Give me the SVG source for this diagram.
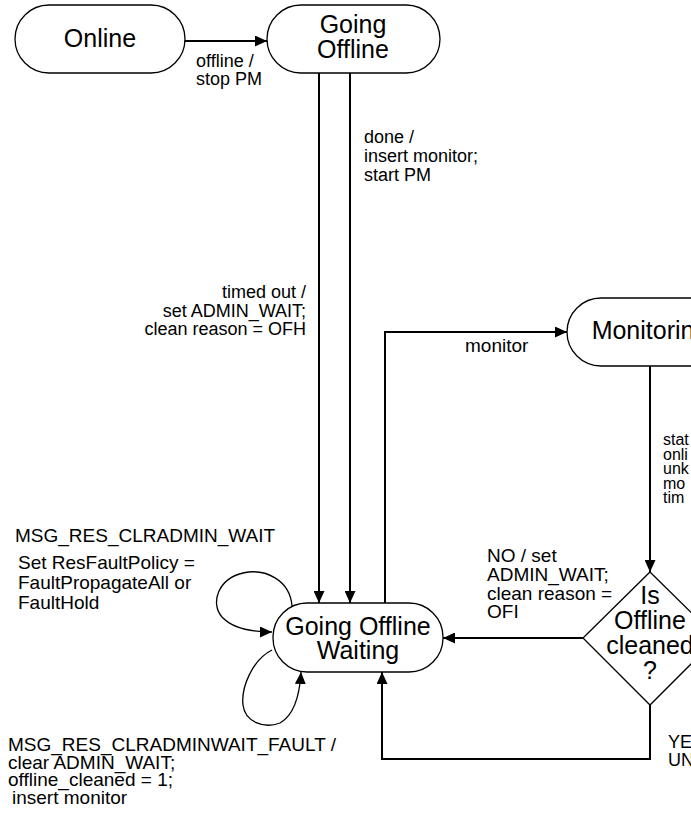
<svg xmlns="http://www.w3.org/2000/svg" width="691" height="814" viewBox="0 0 691 814">
<style>
.node{fill:#fff;stroke:#000;stroke-width:1.3}
.nt{font-family:"Liberation Sans",Arial,sans-serif;font-size:25px;fill:#000;text-anchor:middle}
.lb{font-family:"Liberation Sans",Arial,sans-serif;font-size:18px;fill:#000}
.lg{font-size:19px}
.sm{font-size:16px}
.c{fill:none;stroke:#000;stroke-width:2}
.loop{fill:none;stroke:#000;stroke-width:1.3}
</style>
<defs>
<marker id="ah" markerWidth="12" markerHeight="11" refX="12" refY="5.5" orient="auto" markerUnits="userSpaceOnUse">
<path d="M0,0 L12,5.5 L0,11 Z" fill="#000"/>
</marker>
</defs>
<rect width="691" height="814" fill="#fff"/>
<g id="connectors">
<path class="c" d="M185,41 H267" marker-end="url(#ah)"/>
<path class="c" d="M319,73 V603" marker-end="url(#ah)"/>
<path class="c" d="M350,73 V603" marker-end="url(#ah)"/>
<path class="c" d="M385,603 V332 H567" marker-end="url(#ah)"/>
<path class="c" d="M650,366 V572" marker-end="url(#ah)"/>
<path class="c" d="M583,638 H443" marker-end="url(#ah)"/>
<path class="c" d="M650,705 V759 H382 V672" marker-end="url(#ah)"/>
<path class="loop" d="M292,606 C290,580 265,568 243,573 C218,579 210,603 222,617 C234,630 256,632 272,632" marker-end="url(#ah)"/>
<path class="loop" d="M272,650 C252,660 241,688 243,705 C245,722 264,729 280,723 C296,714 300,690 301,672" marker-end="url(#ah)"/>
</g>
<g id="online">
<rect class="node" x="15" y="5" width="170" height="68" rx="34" ry="34"/>
<text class="nt" x="100" y="47">Online</text>
</g>
<g id="going-offline">
<rect class="node" x="267" y="5" width="173" height="68" rx="34" ry="34"/>
<text class="nt" x="353" y="33">Going</text>
<text class="nt" x="353" y="58">Offline</text>
</g>
<g id="monitoring">
<rect class="node" x="567" y="298" width="166" height="68" rx="34" ry="34"/>
<text class="nt" x="650" y="339">Monitoring</text>
</g>
<g id="going-offline-waiting">
<rect class="node" x="273" y="603" width="170" height="69" rx="34" ry="34"/>
<text class="nt" x="358" y="635">Going Offline</text>
<text class="nt" x="358" y="659">Waiting</text>
</g>
<g id="is-offline-cleaned">
<path class="node" d="M650,572 L717,638 L650,705 L583,638 Z"/>
<text class="nt" x="650" y="604">Is</text>
<text class="nt" x="650" y="629">Offline</text>
<text class="nt" x="650" y="654">cleaned</text>
<text class="nt" x="650" y="679">?</text>
</g>
<g id="labels">
<text class="lb" x="196" y="67">offline /</text>
<text class="lb" x="196" y="85">stop PM</text>
<text class="lb" x="364" y="143" font-size="17">done /</text>
<text class="lb" x="364" y="162" font-size="17">insert monitor;</text>
<text class="lb" x="364" y="181" font-size="17">start PM</text>
<text class="lb" x="306" y="298" text-anchor="end">timed out /</text>
<text class="lb" x="306" y="317" text-anchor="end">set ADMIN_WAIT;</text>
<text class="lb" x="306" y="335" text-anchor="end">clean reason = OFH</text>
<text class="lb lg" x="465" y="352">monitor</text>
<text class="lb sm" x="663" y="445">stat</text>
<text class="lb sm" x="663" y="459.5">onli</text>
<text class="lb sm" x="663" y="474">unk</text>
<text class="lb sm" x="663" y="488.5">mo</text>
<text class="lb sm" x="663" y="503">tim</text>
<text class="lb lg" x="15" y="542">MSG_RES_CLRADMIN_WAIT</text>
<text class="lb lg" x="18" y="569">Set ResFaultPolicy =</text>
<text class="lb lg" x="18" y="589">FaultPropagateAll or</text>
<text class="lb lg" x="18" y="609">FaultHold</text>
<text class="lb lg" x="487" y="562">NO / set</text>
<text class="lb lg" x="487" y="581">ADMIN_WAIT;</text>
<text class="lb lg" x="487" y="600">clean reason =</text>
<text class="lb lg" x="487" y="618">OFI</text>
<text class="lb" x="668" y="748">YE</text>
<text class="lb" x="668" y="766">UN</text>
<text class="lb lg" x="8" y="751">MSG_RES_CLRADMINWAIT_FAULT /</text>
<text class="lb lg" x="8" y="768.5">clear ADMIN_WAIT;</text>
<text class="lb lg" x="8" y="786">offline_cleaned = 1;</text>
<text class="lb lg" x="12" y="803.5">insert monitor</text>
</g>
</svg>
